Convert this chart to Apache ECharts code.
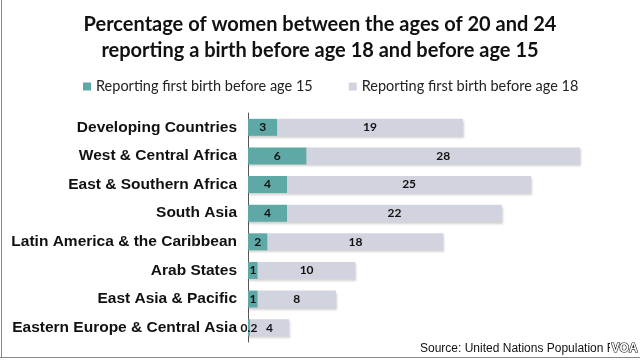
<!DOCTYPE html>
<html><head><meta charset="utf-8">
<script src="https://cdn.jsdelivr.net/npm/echarts@6/dist/echarts.min.js"></script>
<style>html,body{margin:0;padding:0;background:#fff}#c{width:640px;height:360px}</style>
</head><body><div id="c"></div>
<script>
const categories = ['Developing Countries','West & Central Africa','East & Southern Africa','South Asia','Latin America & the Caribbean','Arab States','East Asia & Pacific','Eastern Europe & Central Asia'];
const before15 = [3,6,4,4,2,1,1,0.2];
const before18 = [19,28,25,22,18,10,8,4];
const seriesNames = ['Reporting first birth before age 15','Reporting first birth before age 18'];

const chart = echarts.init(document.getElementById('c'));
const lbl = {show:true, position:'inside', color:'#111', fontFamily:'Lato', fontWeight:'bold', fontSize:12};
const shadow = {shadowColor:'rgba(0,0,0,0.18)', shadowBlur:2, shadowOffsetX:1, shadowOffsetY:2};
chart.setOption({
  animation:false,
  title:{text:'Percentage of women between the ages of 20 and 24\nreporting a birth before age 18 and before age 15', left:'center', top:7,
    textStyle:{fontFamily:'Lato', fontWeight:'bold', fontSize:20, lineHeight:26, color:'#111'}},
  legend:{top:74, left:78, itemWidth:8, itemHeight:8, itemGap:36, icon:'rect',
    textStyle:{fontFamily:'Lato', fontSize:14.5, color:'#222'}, data:seriesNames},
  grid:{left:248, right:60, top:113, bottom:18},
  xAxis:{type:'value', min:0, max:34, show:false},
  yAxis:{type:'category', data:categories, inverse:true,
    axisLine:{show:true, lineStyle:{color:'#555', width:1}}, axisTick:{show:false},
    axisLabel:{fontFamily:'Arial, Liberation Sans', fontWeight:'bold', fontSize:15.5, color:'#111', margin:11}},
  series:[
    {name:seriesNames[0], type:'bar', stack:'a', data:before15, barWidth:17,
      itemStyle:Object.assign({color:'#5EA9A6'}, shadow), label:lbl},
    {name:seriesNames[1], type:'bar', stack:'a', data:before18, barWidth:17,
      itemStyle:Object.assign({color:'#D1D4DE'}, shadow), label:lbl}
  ],
  graphic:[
    {type:'line', shape:{x1:1.5,y1:0,x2:1.5,y2:357}, style:{stroke:'#888', lineWidth:1}},
    {type:'line', shape:{x1:0,y1:357.5,x2:640,y2:357.5}, style:{stroke:'#888', lineWidth:1}},
    {type:'text', left:420, top:343, style:{text:'Source: United Nations Population Fund', font:'12px Arial, Liberation Sans', fill:'#111'}},
    {type:'rect', shape:{x:610,y:341,width:28,height:14}, style:{fill:'#fff'}},
    {type:'text', left:611, top:342, style:{text:'VOA', font:'bold 12px Arial, Liberation Sans', fill:'#fff', stroke:'#111', lineWidth:1.2}}
  ]
});
</script></body></html>
